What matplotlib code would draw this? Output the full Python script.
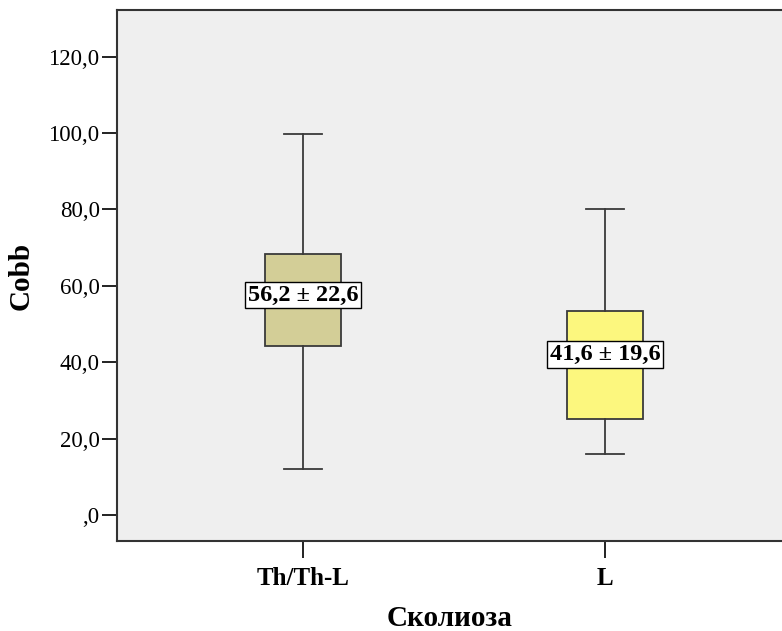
import numpy as np
import matplotlib.pyplot as plt
from matplotlib.ticker import FixedLocator

# Cobb angle by scoliosis type
groups = ['Th/Th-L', 'L']
whisker_lo = [12.0, 16.0]
q1 = [44.2, 25.1]
median = [57.6, 42.1]
q3 = [68.4, 53.4]
whisker_hi = [99.7, 80.0]
summary = ['56,2 \u00b1 22,6', '41,6 \u00b1 19,6']
box_colors = ['#D3CE97', '#FCF77E']

y_ticks = [0, 20, 40, 60, 80, 100, 120]
y_tick_labels = [',0', '20,0', '40,0', '60,0', '80,0', '100,0', '120,0']

plt.rcParams['font.family'] = ['Liberation Serif', 'DejaVu Serif']

fig = plt.figure(figsize=(7.82, 6.31), dpi=100)
ax = fig.add_axes([117 / 782, 90 / 631, 665 / 782, 531 / 631])
ax.set_facecolor('#EFEFEF')

stats = []
for i in range(len(groups)):
    stats.append({'label': groups[i], 'whislo': whisker_lo[i], 'q1': q1[i],
                  'med': median[i], 'q3': q3[i], 'whishi': whisker_hi[i],
                  'fliers': []})

pos = np.arange(len(groups))
edge = '#3a3a3a'
bp = ax.bxp(stats, positions=pos, widths=0.252, capwidths=0.126,
            patch_artist=True, showfliers=False,
            boxprops=dict(edgecolor=edge, linewidth=1.3),
            whiskerprops=dict(color=edge, linewidth=1.3),
            capprops=dict(color=edge, linewidth=1.3),
            medianprops=dict(color='black', linewidth=1.3))
for patch, c in zip(bp['boxes'], box_colors):
    patch.set_facecolor(c)

# mean ± SD label sitting on the median
for x, m, s in zip(pos, median, summary):
    ax.text(x, m, s, ha='center', va='center', fontsize=17.5, fontweight='bold',
            zorder=5,
            bbox=dict(boxstyle='square,pad=0.12', facecolor='white',
                      edgecolor='black', linewidth=1.0))

ax.set_xlim(-0.616, 1.586)
ax.set_ylim(-6.8, 132.2)
ax.yaxis.set_major_locator(FixedLocator(y_ticks))
ax.set_yticklabels(y_tick_labels)
ax.set_xticks(pos)
ax.set_xticklabels(groups, fontweight='bold', fontsize=18)
ax.tick_params(axis='y', length=11, width=1.4, labelsize=16.5, pad=1.5,
               color='#222222')
ax.tick_params(axis='x', length=12.5, width=1.4, pad=6, color='#222222')

for side in ['left', 'top', 'bottom']:
    ax.spines[side].set_color('#333333')
    ax.spines[side].set_linewidth(1.5)
ax.spines['right'].set_visible(False)

ax.set_ylabel('Cobb', fontsize=21, fontweight='bold', labelpad=10)
ax.set_xlabel('Сколиоза', fontsize=21, fontweight='bold', labelpad=11)

fig.savefig('out.png', dpi=100)
